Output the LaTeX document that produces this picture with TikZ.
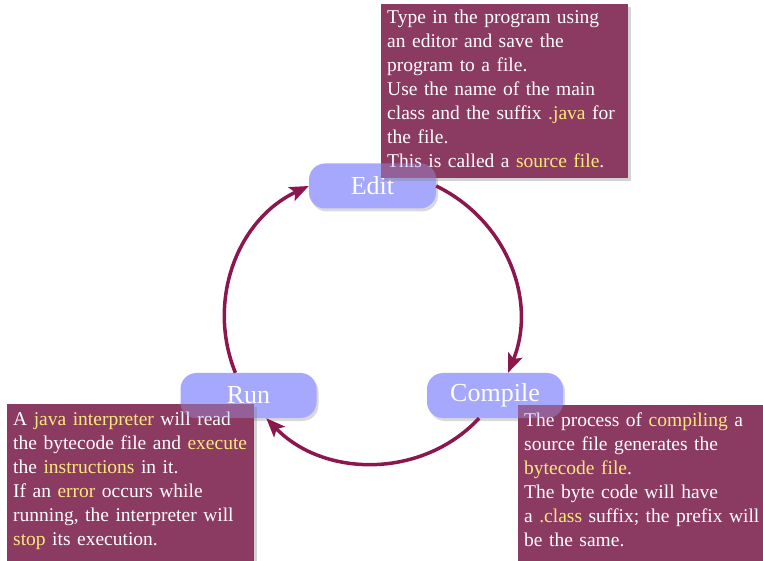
\documentclass[tikz,border=0pt]{standalone}
\usepackage{fontspec}
\setmainfont{Liberation Serif}
\usetikzlibrary{arrows.meta,shadows}
\definecolor{nodeblue}{RGB}{166,168,253}
\definecolor{boxred}{RGB}{139,58,98}
\definecolor{arcred}{RGB}{140,22,78}
\definecolor{hl}{RGB}{255,233,122}
\newcommand{\hy}[1]{\textcolor{hl}{#1}}
\newcommand{\deep}[1]{\rule[-#1]{0pt}{#1}}
\begin{document}
\begin{tikzpicture}[x=1pt,y=1pt,
  stage/.style={rectangle, rounded corners=16pt, fill=nodeblue, text=white,
    font=\fontsize{26}{30}\selectfont, minimum height=45pt, inner sep=0pt,
    drop shadow={shadow xshift=2pt, shadow yshift=-3pt, opacity=0.3}},
  note/.style={rectangle, fill=boxred, text=white, anchor=north west, align=left,
    text width=235pt, inner xsep=6pt, inner ysep=6pt,
    font=\fontsize{19.5}{24}\selectfont,
    drop shadow={shadow xshift=3pt, shadow yshift=-3pt, opacity=0.35}},
  flow/.style={draw=arcred, line width=3.5pt, -{Stealth[length=19pt,width=15pt,inset=4pt]}},
  tint/.style={fill=nodeblue, fill opacity=0.35, rounded corners=16pt}]
\useasboundingbox (0,0) rectangle (763,560);

\node[stage, minimum width=127pt] (edit) at (372.5,374) {Edit};
\node[stage, minimum width=136pt] (compile) at (495,164.5) {Compile};
\node[stage, minimum width=136pt] (run) at (248.5,164.5) {Run};

\draw[flow] (edit.east) to[out=-26,in=68] (compile.60);
\draw[flow] (compile.-125) to[out=-133,in=-46] (run.-52);
\draw[flow] (run.120) to[out=112,in=205] (edit.west);

\node[note] (editnote) at (381,556) {Type in the program using\\
an editor and save the\\
program to a file.\\
Use the name of the main\\
class and the suffix \hy{.java} for\\
the file.\\
This is called a \hy{source file}.\deep{4pt}};

\node[note, inner ysep=8pt] (runnote) at (7,156) {A \hy{java interpreter} will read\\
the bytecode file and \hy{execute}\\
the \hy{instructions} in it.\\
If an \hy{error} occurs while\\
running, the interpreter will\\
\hy{stop} its execution.\deep{16pt}};

\node[note, inner ysep=8pt, text width=250pt] (compilenote) at (518,155) {The process of \hy{compiling} a\\
source file generates the\\
\hy{bytecode file}.\\
The byte code will have\\
a \hy{.class} suffix; the prefix will\\
be the same.\deep{16pt}};

\begin{scope}
\clip (editnote.south west) rectangle (editnote.north east);
\fill[tint] (edit.south west) rectangle (edit.north east);
\end{scope}
\begin{scope}
\clip (runnote.south west) rectangle (runnote.north east);
\fill[tint] (run.south west) rectangle (run.north east);
\end{scope}
\begin{scope}
\clip (compilenote.south west) rectangle (compilenote.north east);
\fill[tint] (compile.south west) rectangle (compile.north east);
\end{scope}
\end{tikzpicture}
\end{document}
